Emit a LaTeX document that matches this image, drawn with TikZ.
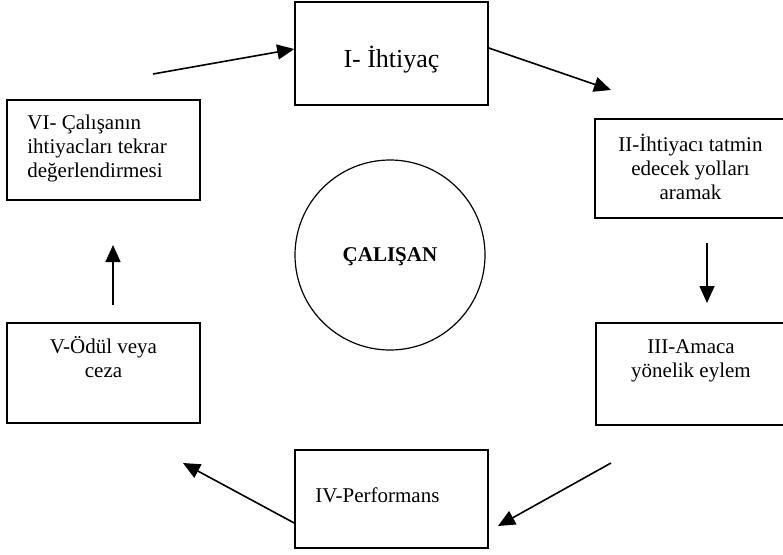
\documentclass[tikz,border=0pt]{standalone}
\usepackage{fontspec}
\setmainfont{Liberation Serif}
\usetikzlibrary{arrows.meta}
\tikzset{
 kutu/.style={draw,line width=1.6pt,inner sep=0pt},
 yazi/.style={inner sep=0pt,font=\fontsize{21}{24}\selectfont},
 ok/.style={line width=1.6pt,-{Triangle[length=17pt,width=15pt]}}
}
\begin{document}
\begin{tikzpicture}[x=1pt,y=-1pt]
 \useasboundingbox (0,0) rectangle (783,554);
 \node[kutu,minimum width=193pt,minimum height=103pt] (I) at (391.5,53.5) {};
 \node[kutu,minimum width=191pt,minimum height=99pt] (II) at (690.5,168.5) {};
 \node[kutu,minimum width=190pt,minimum height=102pt] (III) at (691,374) {};
 \node[kutu,minimum width=193pt,minimum height=98pt] (IV) at (391.5,499) {};
 \node[kutu,minimum width=193pt,minimum height=100pt] (V) at (103.5,373) {};
 \node[kutu,minimum width=193pt,minimum height=100pt] (VI) at (103.5,150) {};
 \node[draw,circle,line width=1.2pt,minimum size=190pt,inner sep=0pt,text depth=0pt,font=\bfseries\fontsize{21}{24}\selectfont] (calisan) at (390,255) {ÇALIŞAN};
 % kutu yazilari (base = son satir)
 \node[yazi,anchor=base,yshift=-66pt,font=\fontsize{26}{30}\selectfont] (t1) at (I.north) {I- İhtiyaç};
 \node[yazi,anchor=base,yshift=-81pt,align=center] (t2) at (II.north) {II-İhtiyacı tatmin\\edecek yolları\\aramak};
 \node[yazi,anchor=base,yshift=-55pt,align=center] (t3) at (III.north) {III-Amaca\\yönelik eylem};
 \node[yazi,anchor=base west,xshift=21pt,yshift=-53pt] (t4) at (IV.north west) {IV-Performans};
 \node[yazi,anchor=base,yshift=-55pt,align=center] (t5) at (V.north) {V-Ödül veya\\ceza};
 \node[yazi,anchor=base west,xshift=21pt,yshift=-78pt,align=left] (t6) at (VI.north west) {VI- Çalışanın\\ihtiyacları tekrar\\değerlendirmesi};
 % oklar
 \coordinate (a1) at (153,74);
 \coordinate (a2) at (611,90);
 \coordinate (a3) at (707,243); \coordinate (a3u) at (707,303);
 \coordinate (a4) at (611,463); \coordinate (a4u) at (498,526);
 \coordinate (a5) at (183,463);
 \coordinate (a6) at (113,305); \coordinate (a6u) at (113,245);
 \draw[ok] (a1) -- ([yshift=4.5pt]I.west);
 \draw[ok] ([yshift=5.5pt]I.east) -- (a2);
 \draw[ok] (a3) -- (a3u);
 \draw[ok] (a4) -- (a4u);
 \draw[ok] ([yshift=-24pt]IV.west) -- (a5);
 \draw[ok] (a6) -- (a6u);
\end{tikzpicture}
\end{document}
